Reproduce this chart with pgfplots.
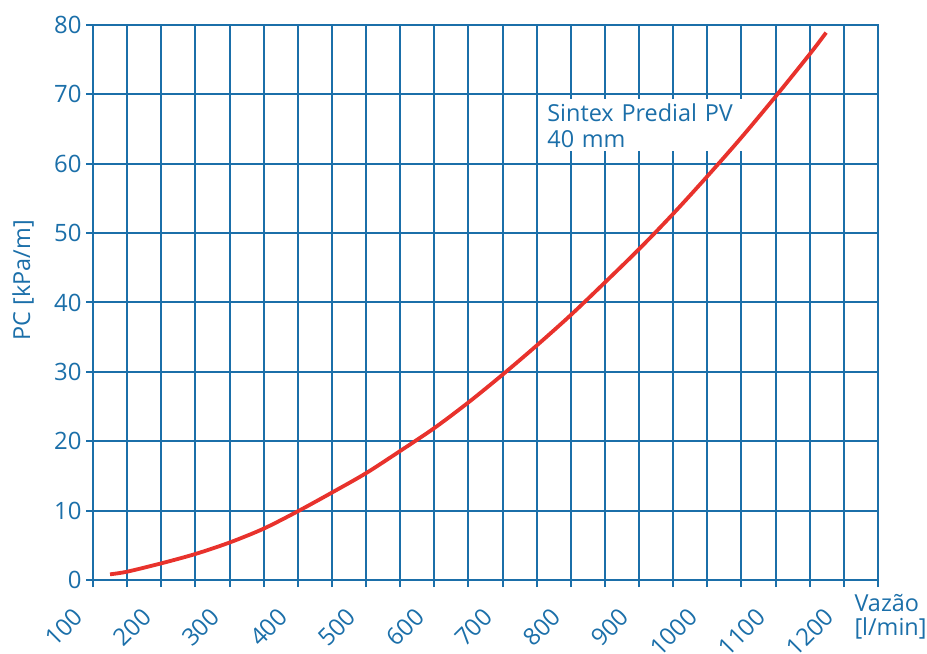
\documentclass[border=0pt]{standalone}
\usepackage{fontspec}
\setmainfont{Open Sans}
\usepackage{pgfplots}
\pgfplotsset{compat=1.18}
\definecolor{gridblue}{HTML}{1B6FA9}
\definecolor{curvered}{HTML}{E8322C}
\begin{document}
\begin{tikzpicture}
\useasboundingbox (-93bp,-74bp) rectangle (834bp,580bp);
\begin{axis}[
    scale only axis,
    width=785bp, height=555bp,
    xmin=100, xmax=1250,
    ymin=0, ymax=80,
    xtick={100,200,...,1200},
    minor xtick={150,250,...,1250},
    ytick={0,10,...,80},
    grid=both,
    major grid style={gridblue, line width=2bp},
    minor grid style={gridblue, line width=2bp},
    axis line style={gridblue, line width=2.6bp},
    tick style={gridblue, line width=2bp},
    tick align=outside,
    major tick length=7bp,
    minor tick length=7bp,
    xtick pos=bottom, ytick pos=left,
    /pgf/number format/assume math mode=true,
    /pgf/number format/1000 sep={},
    every tick label/.append style={font=\fontsize{24}{27}\selectfont, text=gridblue},
    xticklabel style={rotate=45, anchor=east, xshift=-25bp, yshift=-8bp},
    yticklabel style={xshift=-1bp},
    label style={font=\fontsize{23.5}{24}\selectfont, text=gridblue},
    ylabel={PC [kPa/m]},
    ylabel style={at={(axis description cs:-0.071,0.54)}, anchor=south},
    xlabel={Vazão\\{[l/min]}},
    xlabel style={at={(axis description cs:1,0)}, anchor=north west, align=left, xshift=-27bp, yshift=-11bp},
]
\node[fill=white, anchor=north west, inner xsep=5bp, inner ysep=4bp, text width=190bp, align=left,
      font=\fontsize{23.5}{26}\selectfont, text=gridblue] at (axis cs:758,69.3) {Sintex Predial PV\\40 mm};
\addplot[curvered, line width=3.8bp, smooth, tension=0.5] coordinates {
    (125,0.82) (150,1.2) (200,2.4) (250,3.75) (300,5.4) (350,7.4) (400,9.9)
    (450,12.6) (500,15.4) (550,18.6) (600,21.9) (650,25.6) (700,29.6)
    (750,33.8) (800,38.2) (850,42.9) (900,47.7) (950,52.8) (1000,58.2)
    (1050,63.8) (1100,69.7) (1150,75.8) (1174,78.9)
};
\end{axis}
\end{tikzpicture}
\end{document}
